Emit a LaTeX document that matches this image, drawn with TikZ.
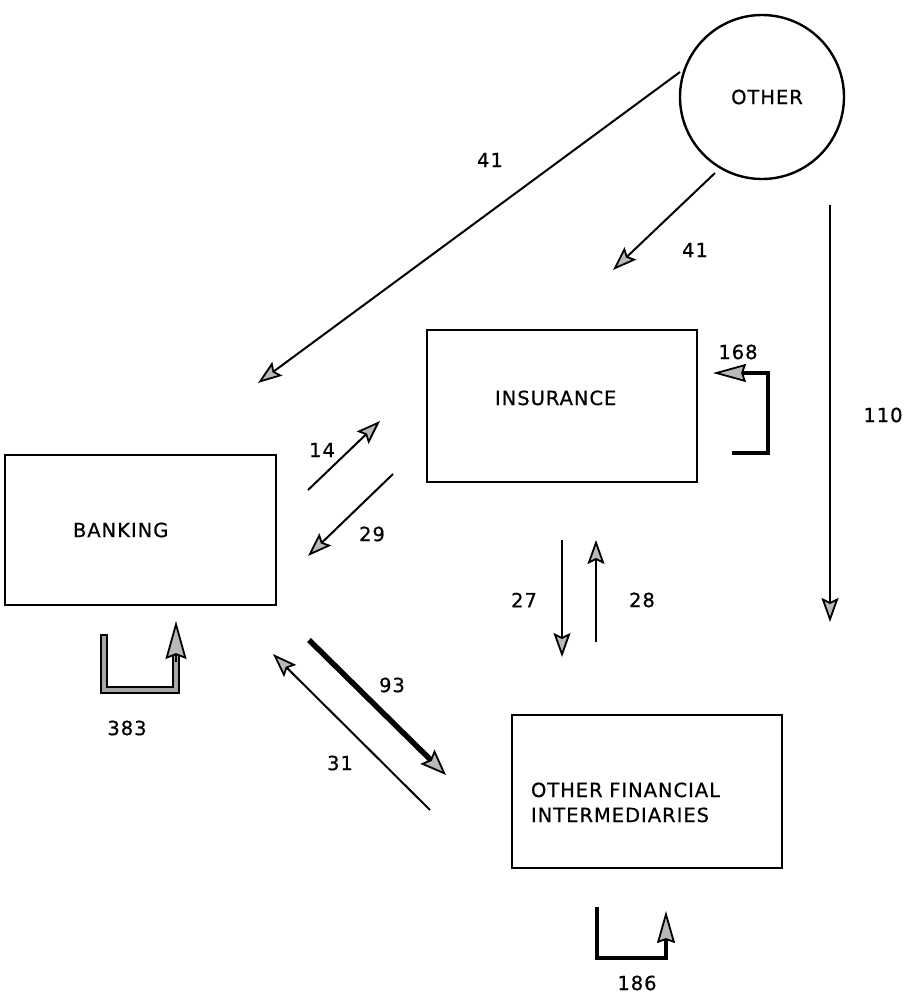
\documentclass[tikz,border=0pt]{standalone}
\usepackage{fontspec}
\setmainfont{DejaVu Sans}[LetterSpace=5,FakeBold=0.6]
\usetikzlibrary{arrows.meta}
\tikzset{
  tip/.tip={Stealth[length=24pt,width=17pt,inset=4pt,line width=1.8pt,fill=gray!55]},
  flow/.style={draw=black,line width=2pt,-tip},
  bigflow/.style={draw=black,line width=5.5pt,-{Stealth[length=26pt,width=20pt,inset=4pt,line width=1.8pt,fill=gray!55]}},
  loop/.style={draw=black,line width=4.5pt,line join=miter,line cap=butt},
  looptip/.style={draw=black,line width=2pt,-{Stealth[length=#1,width=18pt,inset=3pt,line width=1.8pt,fill=gray!55]}},
  sector/.style={draw=black,line width=1.6pt,rectangle,font=\fontsize{19.5}{25}\selectfont,align=left},
  num/.style={font=\fontsize{19.5}{22}\selectfont,inner sep=0pt}
}
\begin{document}
\begin{tikzpicture}[x=1pt,y=-1pt]
\useasboundingbox[fill=white] (0,0) rectangle (913,999);
% sectors
\node[draw=black,line width=2.4pt,circle,minimum size=164pt,font=\fontsize{19.5}{22}\selectfont] (other) at (762,97) {\hspace*{10pt}OTHER};
\node[sector,minimum height=152pt,inner xsep=68pt,text width=134pt,text height=10pt,text depth=12pt] (ins) at (562,406) {INSURANCE};
\node[sector,minimum height=150pt,inner xsep=68pt,text width=135pt] (bank) at (140.5,530) {BANKING};
\node[sector,minimum height=153pt,inner xsep=19pt,text width=232pt,text height=20pt,text depth=9pt] (ofi) at (647,791.5) {OTHER FINANCIAL\\INTERMEDIARIES};
% connector end points
\coordinate (a1) at (680,72);  \coordinate (b1) at (258,383);
\coordinate (a2) at (715,173); \coordinate (b2) at (613,270);
\coordinate (a3) at (830,205); \coordinate (b3) at (830,622);
\coordinate (a4) at (308,490); \coordinate (b4) at (380,421);
\coordinate (a5) at (393,474); \coordinate (b5) at (308,556);
\coordinate (a6) at (562,540); \coordinate (b6) at (562,657);
\coordinate (a7) at (596,642); \coordinate (b7) at (596,540);
\coordinate (a8) at (309,640); \coordinate (b8) at (446,775);
\coordinate (a9) at (430,810); \coordinate (b9) at (273,654);
% flows
\draw[flow] (a1) -- (b1);
\draw[flow] (a2) -- (b2);
\draw[flow] (a3) -- (b3);
\draw[flow] (a4) -- (b4);
\draw[flow] (a5) -- (b5);
\draw[flow] (a6) -- (b6);
\draw[flow] (a7) -- (b7);
\draw[bigflow] (a8) -- (b8);
\draw[flow] (a9) -- (b9);
% self loops
\coordinate (l1s) at (732,453); \coordinate (l1e) at (713,373);
\draw[loop] (l1s) -- (768,453) -- (768,373) -- (740,373);
\draw[looptip=33pt] (750,373) -- (l1e);
\coordinate (l2s) at (104,634); \coordinate (l2e) at (176,621);
\draw[line width=7.5pt,black,line join=miter] (l2s) -- (104,690) -- (176,690) -- (176,655);
\draw[line width=4pt,gray!70,line join=miter] (104,635.8) -- (104,690) -- (176,690) -- (176,655);
\draw[draw=black,line width=2pt,-{Stealth[length=38pt,width=21pt,inset=4pt,line width=1.8pt,fill=gray!55]}] (176,662) -- (l2e);
\coordinate (l3s) at (597,907); \coordinate (l3e) at (666,911);
\draw[loop] (l3s) -- (597,958) -- (666,958) -- (666,938);
\draw[looptip=32pt] (666,945) -- (l3e);
% labels
\node[num] (n1) at (490,160) {41};
\node[num] (n2) at (695,250) {41};
\node[num] (n3) at (883,415) {110};
\node[num] (n4) at (322,450) {14};
\node[num] (n5) at (372,534) {29};
\node[num] (n6) at (524,600) {27};
\node[num] (n7) at (642,600) {28};
\node[num] (n8) at (392,685) {93};
\node[num] (n9) at (340,763) {31};
\node[num] (n10) at (738,352) {168};
\node[num] (n11) at (127,728) {383};
\node[num] (n12) at (637,983) {186};
\end{tikzpicture}
\end{document}
